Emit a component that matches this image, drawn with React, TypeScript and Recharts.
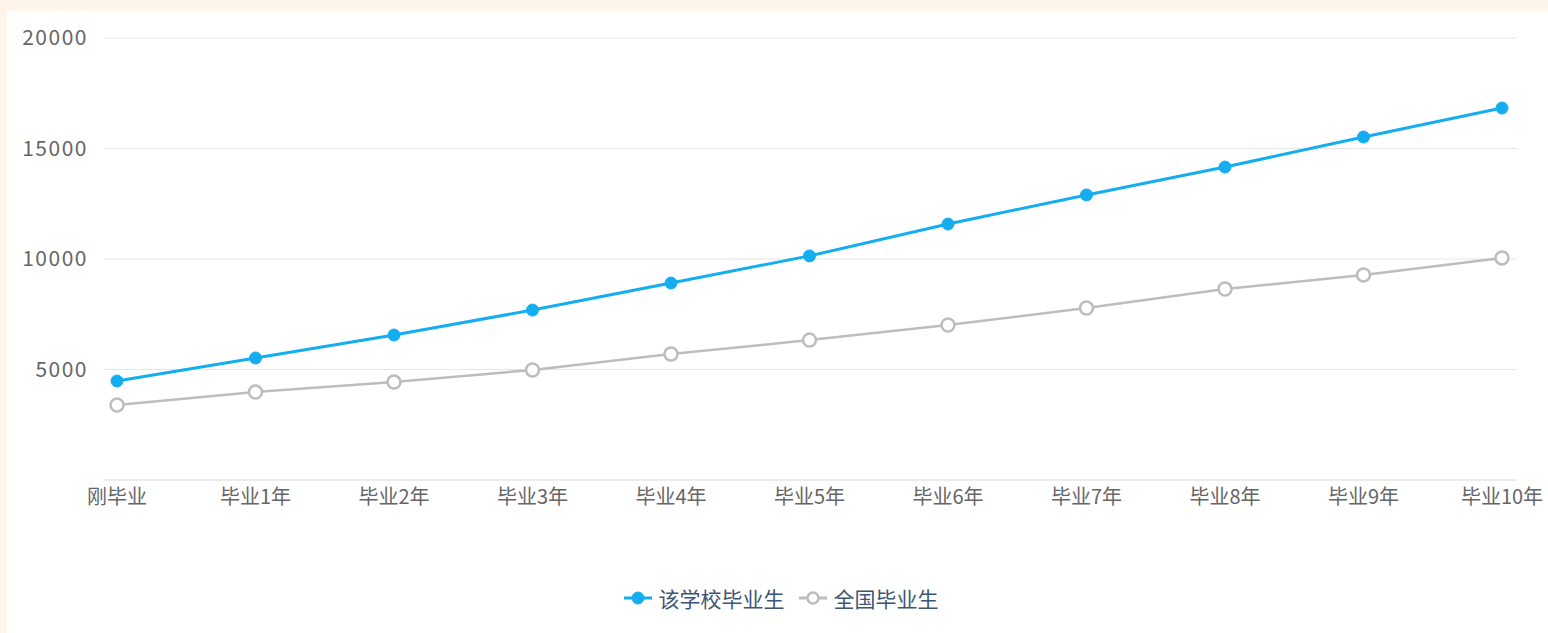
import { CartesianGrid, Legend, Line, LineChart, XAxis, YAxis } from "recharts"

const categories = ["刚毕业", "毕业1年", "毕业2年", "毕业3年", "毕业4年", "毕业5年", "毕业6年", "毕业7年", "毕业8年", "毕业9年", "毕业10年"]
const schoolValues = [4480, 5520, 6560, 7690, 8910, 10140, 11580, 12900, 14160, 15520, 16830]
const nationalValues = [3390, 3980, 4430, 4980, 5700, 6330, 7010, 7780, 8640, 9280, 10050]
const yTicks = [0, 5000, 10000, 15000, 20000]

const data = categories.map((name, i) => ({
  name,
  school: schoolValues[i],
  national: nationalValues[i],
}))

const font = "'Noto Sans CJK SC', 'Noto Sans', sans-serif"

const legendItems = [
  { name: "该学校毕业生", color: "#14aef0", hollow: false },
  { name: "全国毕业生", color: "#bdbdbd", hollow: true },
]

function ChartLegend() {
  return (
    <div style={{ height: 113, display: "flex", justifyContent: "center", alignItems: "center", paddingTop: 62, paddingLeft: 50, boxSizing: "border-box" }}>
      {legendItems.map((item) => (
        <div key={item.name} style={{ display: "flex", alignItems: "center", marginRight: 13 }}>
          <svg width={30} height={16} style={{ marginRight: 6 }}>
            <line x1={1} y1={8} x2={29} y2={8} stroke={item.color} strokeWidth={3} />
            <circle cx={15} cy={8} r={item.hollow ? 5.5 : 6} fill={item.hollow ? "#fff" : item.color} stroke={item.color} strokeWidth={item.hollow ? 2.5 : 1} />
          </svg>
          <span style={{ color: "#3e5676", fontSize: 21 }}>{item.name}</span>
        </div>
      ))}
    </div>
  )
}

export default function App() {
  return (
    <div style={{ position: "fixed", left: 0, top: 0, width: 1548, height: 633, background: "#fdf5e9" }}>
      <div style={{ position: "absolute", left: 7, top: 11, width: 1541, height: 622, background: "#fff" }}>
        <LineChart
          width={1541}
          height={622}
          data={data}
          margin={{ top: 27, right: 31, bottom: 10, left: 0 }}
          style={{ fontFamily: font }}
        >
          <CartesianGrid horizontal vertical={false} stroke="#e6e6e6" />
          <XAxis
            dataKey="name"
            height={30}
            padding={{ left: 13, right: 15 }}
            tick={{ fill: "#666", fontSize: 20 }}
            tickLine={false}
            axisLine={{ stroke: "#e6e6e6" }}
            interval={0}
            tickMargin={4}
          />
          <YAxis
            width={97}
            domain={[0, 20000]}
            ticks={yTicks}
            tickFormatter={(v) => (v === 0 ? "" : `${v}`)}
            tick={{ fill: "#666", fontSize: 21, letterSpacing: 1.5 }}
            tickLine={false}
            axisLine={false}
            tickMargin={10}
          />
          <Legend verticalAlign="bottom" height={113} content={() => <ChartLegend />} />
          <Line
            name="该学校毕业生"
            dataKey="school"
            stroke="#14aef0"
            strokeWidth={3}
            dot={{ r: 6, fill: "#14aef0", stroke: "#14aef0", strokeWidth: 1 }}
            isAnimationActive={false}
          />
          <Line
            name="全国毕业生"
            dataKey="national"
            stroke="#bdbdbd"
            strokeWidth={2.5}
            dot={{ r: 6.5, fill: "#fff", stroke: "#bdbdbd", strokeWidth: 2.5 }}
            isAnimationActive={false}
          />
        </LineChart>
      </div>
    </div>
  )
}
